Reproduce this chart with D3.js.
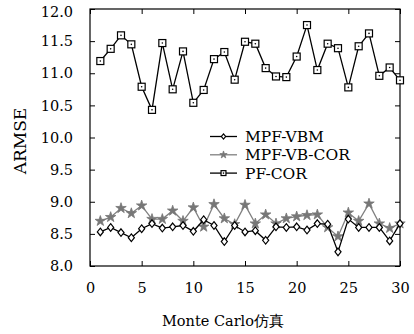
<!DOCTYPE html>
<html>
<head>
<meta charset="utf-8">
<script src="https://cdn.jsdelivr.net/npm/d3@7"></script>
<style>
  body { margin: 0; background: #fff; }
  svg text { font-family: "DejaVu Serif", serif; fill: #000; }
</style>
</head>
<body>
<div id="chart"></div>
<script>
// Monte Carlo runs 1..30
const runs = d3.range(1, 31);

const mpfVbm = [8.53, 8.60, 8.52, 8.44, 8.58, 8.66, 8.59, 8.61, 8.63, 8.54,
                8.72, 8.63, 8.38, 8.63, 8.53, 8.55, 8.40, 8.61, 8.60, 8.61,
                8.56, 8.66, 8.65, 8.22, 8.73, 8.60, 8.60, 8.60, 8.39, 8.66];

const mpfVbCor = [8.70, 8.76, 8.90, 8.82, 8.94, 8.73, 8.73, 8.86, 8.70, 8.91,
                  8.61, 8.96, 8.74, 8.65, 8.95, 8.66, 8.80, 8.66, 8.74, 8.77,
                  8.79, 8.80, 8.60, 8.46, 8.83, 8.70, 8.97, 8.66, 8.59, 8.66];

const pfCor = [11.19, 11.38, 11.59, 11.45, 10.79, 10.43, 11.47, 10.75, 11.34, 10.54,
               10.74, 11.22, 11.33, 10.90, 11.49, 11.46, 11.08, 10.95, 10.94, 11.26,
               11.75, 11.05, 11.46, 11.39, 10.78, 11.42, 11.62, 10.96, 11.09, 10.89];

const xTicks = [0, 5, 10, 15, 20, 25, 30];
const yTicks = [8.0, 8.5, 9.0, 9.5, 10.0, 10.5, 11.0, 11.5, 12.0];

const seriesNames = ['MPF-VBM', 'MPF-VB-COR', 'PF-COR'];

const width = 414, height = 334;
const margin = { top: 9, right: 14, bottom: 68, left: 90 };

const svg = d3.select('#chart').append('svg')
  .attr('width', width)
  .attr('height', height);

const x = d3.scaleLinear().domain([0, 30]).range([margin.left, width - margin.right]);
const y = d3.scaleLinear().domain([8, 12]).range([height - margin.bottom, margin.top]);

const tickLen = 5;

// frame
svg.append('rect')
  .attr('x', x(0)).attr('y', y(12))
  .attr('width', x(30) - x(0)).attr('height', y(8) - y(12))
  .attr('fill', 'none').attr('stroke', '#000').attr('stroke-width', 1.2);

// bottom axis, ticks inward
const xAxisB = svg.append('g')
  .attr('transform', `translate(0,${y(8)})`)
  .call(d3.axisBottom(x).tickValues(xTicks).tickSize(-tickLen).tickPadding(17).tickFormat(d3.format('d')));
// top axis ticks
const xAxisT = svg.append('g')
  .attr('transform', `translate(0,${y(12)})`)
  .call(d3.axisTop(x).tickValues(xTicks).tickSize(-tickLen).tickFormat(''));
// left axis
const yAxisL = svg.append('g')
  .attr('transform', `translate(${x(0)},0)`)
  .call(d3.axisLeft(y).tickValues(yTicks).tickSize(-tickLen).tickPadding(17).tickFormat(d3.format('.1f')));
// right axis
const yAxisR = svg.append('g')
  .attr('transform', `translate(${x(30)},0)`)
  .call(d3.axisRight(y).tickValues(yTicks).tickSize(-tickLen).tickFormat(''));

[xAxisB, xAxisT, yAxisL, yAxisR].forEach(a => {
  a.select('.domain').remove();
  a.selectAll('.tick line').attr('stroke', '#000').attr('stroke-width', 1);
  a.selectAll('text').style('font-size', '14.5px').attr('font-family', null);
});
// top label sits a bit lower in the original
yAxisL.selectAll('.tick text').filter(d => d === 12).attr('dy', '0.52em');

// axis titles
svg.append('text')
  .attr('text-anchor', 'middle')
  .attr('transform', `translate(26,141) rotate(-90)`)
  .style('font-size', '17px')
  .text('ARMSE');

svg.append('text')
  .attr('text-anchor', 'middle')
  .attr('x', 223)
  .attr('y', 326)
  .style('font-size', '14.5px')
  .text('Monte Carlo仿真');

const line = d3.line()
  .x((d, i) => x(runs[i]))
  .y(d => y(d));

const starSym = d3.symbol().type(d3.symbolStar);
const diamondPath = s => `M0,${-s}L${s * 0.8},0L0,${s}L${-s * 0.8},0Z`;

function drawSeries(values, color, marker) {
  svg.append('path')
    .datum(values)
    .attr('fill', 'none')
    .attr('stroke', color)
    .attr('stroke-width', 1.3)
    .attr('d', line);
  const g = svg.append('g').selectAll('g')
    .data(values)
    .join('g')
    .attr('transform', (d, i) => `translate(${x(runs[i])},${y(d)})`);
  marker(g, 1);
}

const squareMarker = (g, s) => {
  g.append('rect').attr('x', -3.5 * s).attr('y', -3.5 * s).attr('width', 7 * s).attr('height', 7 * s)
    .attr('fill', '#fff').attr('stroke', '#000').attr('stroke-width', 1.2);
  g.append('circle').attr('r', 0.8).attr('fill', '#000');
};
const diamondMarker = (g, s) => {
  g.append('path').attr('d', diamondPath(3.8 * s))
    .attr('fill', '#fff').attr('stroke', '#000').attr('stroke-width', 1.2);
};
const starMarker = (g, s) => {
  g.append('path').attr('d', starSym.size(34 * s * s)).attr('fill', '#777')
    .attr('stroke', '#777').attr('stroke-width', 0.8);
};

drawSeries(pfCor, '#000', squareMarker);
drawSeries(mpfVbCor, '#808080', starMarker);
drawSeries(mpfVbm, '#000', diamondMarker);

// legend
const legend = svg.append('g').attr('transform', 'translate(210,136.5)');
const legendMarkers = [diamondMarker, starMarker, squareMarker];
const legendColors = ['#000', '#808080', '#000'];
seriesNames.forEach((name, i) => {
  const row = legend.append('g').attr('transform', `translate(0,${i * 18.3})`);
  row.append('line').attr('x1', 0).attr('x2', 27).attr('y1', 0).attr('y2', 0)
    .attr('stroke', legendColors[i]).attr('stroke-width', 1.3);
  const m = row.append('g').attr('transform', 'translate(13.5,0)').datum(0);
  legendMarkers[i](m, 0.7);
  row.append('text').attr('x', 35).attr('y', 0).attr('dy', '0.35em')
    .style('font-size', '15.5px').text(name);
});
</script>
</body>
</html>
